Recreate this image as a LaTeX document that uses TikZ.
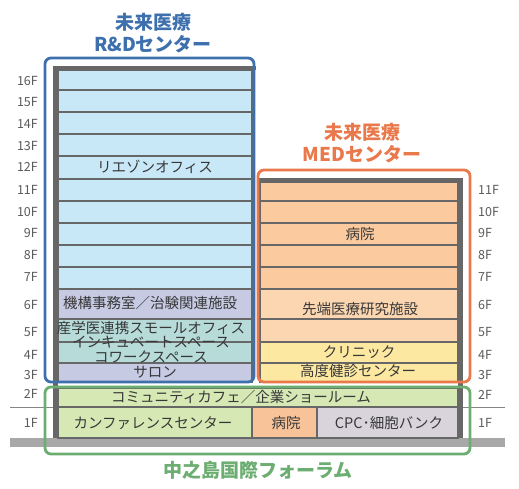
\documentclass[tikz,border=0pt]{standalone}
\usepackage{fontspec}
\setmainfont{Noto Sans CJK JP}
\usepackage{xcolor}
\usepackage{tikz}
\usetikzlibrary{calc, positioning}

\definecolor{rdblue}{HTML}{3F70AE}
\definecolor{medorange}{HTML}{E9784A}
\definecolor{forumgreen}{HTML}{6CAD71}
\definecolor{wallgray}{HTML}{676767}
\definecolor{groundgray}{HTML}{A8A8A8}
\definecolor{txtgray}{HTML}{383838}
\definecolor{flrgray}{HTML}{5A5A5A}
\definecolor{roomblue}{HTML}{C8E8F8}
\definecolor{roomlav}{HTML}{C6CAE3}
\definecolor{roomteal}{HTML}{B6DBD9}
\definecolor{roomorange}{HTML}{FBCA9E}
\definecolor{roompeach}{HTML}{FCD6B1}
\definecolor{roomyellow}{HTML}{FDE8A2}
\definecolor{roomgreen}{HTML}{D6E8B4}
\definecolor{roomhosp}{HTML}{F9C39A}
\definecolor{roomcpc}{HTML}{D9D3DB}

\begin{document}
\begin{tikzpicture}[x=1pt, y=-1pt,
    room/.style={draw=wallgray, line width=1.6pt},
    roomtext/.style={font=\fontsize{14.5}{14.6}\selectfont, text=txtgray, inner sep=0pt, align=center},
    floortext/.style={font=\fontsize{12.5}{12.5}\selectfont, text=flrgray, inner sep=0pt},
    titletext/.style={font=\fontsize{19}{21.5}\selectfont\bfseries, inner sep=0pt, align=center},
    frame/.style={line width=2.8pt, rounded corners=6pt}]
    \useasboundingbox (0,0) rectangle (519,488);

    % Mặt đất và đường ranh giới 1F/2F
    \draw[wallgray!80, line width=0.9pt] (10,407) -- (505,407);
    \fill[groundgray] (10,438) rectangle (505,447);

    % Tòa R&D: các tầng
    \foreach \t/\b in {70/90, 90/112, 112/134, 134/156, 156/179, 179/201, 201/223, 223/245, 245/267, 267/289} {
        \draw[room, fill=roomblue] (58,\t) rectangle (252,\b);
    }
    \draw[room, fill=roomlav] (58,289) rectangle (252,319);
    \draw[room, fill=roomteal] (58,319) rectangle (252,363);
    \draw[wallgray, line width=1.6pt] (58,342) -- (252,342);
    \draw[room, fill=roomlav] (58,363) rectangle (252,382);

    % Tòa MED: các tầng
    \foreach \t/\b in {182/201, 201/223, 223/245, 245/267, 267/289} {
        \draw[room, fill=roomorange] (260,\t) rectangle (458,\b);
    }
    \draw[room, fill=roompeach] (260,289) rectangle (458,319);
    \draw[room, fill=roompeach] (260,319) rectangle (458,342);
    \draw[room, fill=roomyellow] (260,342) rectangle (458,363);
    \draw[room, fill=roomyellow] (260,363) rectangle (458,382);

    % Tầng 1, 2
    \draw[room, fill=roomgreen] (58,388) rectangle (458,407);
    \draw[room, fill=roomgreen] (58,407) rectangle (252,438);
    \draw[room, fill=roomhosp] (252,407) rectangle (317,438);
    \draw[room, fill=roomcpc] (317,407) rectangle (458,438);

    % Tường
    \fill[wallgray] (53,66) rectangle (256,70);
    \fill[wallgray] (53,66) rectangle (58,438);
    \fill[wallgray] (258,178) rectangle (463,182);
    \fill[wallgray] (458,178) rectangle (463,438);

    % Khung viền
    \draw[frame, rdblue] (45,58) rectangle (254,382);
    \draw[frame, medorange] (258,170) rectangle (470,382);
    \draw[frame, forumgreen] (45,387) rectangle (470,454);

    % Tiêu đề
    \node[titletext, text=rdblue] (rdtitle) at (153,33) {未来医療\\R\&Dセンター};
    \node[titletext, text=medorange] (medtitle) at (362,143) {未来医療\\MEDセンター};
    \node[titletext, text=forumgreen] (forumtitle) at (258,470) {中之島国際フォーラム};

    % Tên phòng
    \node[roomtext] (liaison) at (155,167) {リエゾンオフィス};
    \node[roomtext] (kikou) at (150,303) {機構事務室／治験関連施設};
    \node[roomtext] (incub) at (151,342) {産学医連携スモールオフィス\\インキュベートスペース\\コワークスペース};
    \node[roomtext] (salon) at (155,372) {サロン};
    \node[roomtext] (hosp) at (360,234) {病院};
    \node[roomtext] (sentan) at (360,309) {先端医療研究施設};
    \node[roomtext] (clinic) at (359,352) {クリニック};
    \node[roomtext] (kenshin) at (358,371) {高度健診センター};
    \node[roomtext] (cafe) at (241,397) {コミュニティカフェ／企業ショールーム};
    \node[roomtext] (conf) at (153,423) {カンファレンスセンター};
    \node[roomtext] (hosp1) at (286,423) {病院};
    \node[roomtext] (cpc) at (389,423) {CPC･細胞バンク};

    % Số tầng
    \foreach \f/\y in {16/81, 15/102, 14/124, 13/146, 12/167, 11/190, 10/212, 9/233, 8/255, 7/277, 6/305, 5/332, 4/355, 3/375, 2/394, 1/423} {
        \node[floortext, anchor=east] (lf\f) at (38,\y) {\f F};
    }
    \foreach \f/\y in {11/190, 10/212, 9/233, 8/255, 7/277, 6/305, 5/332, 4/355, 3/375, 2/395, 1/423} {
        \node[floortext, anchor=west] (rf\f) at (478,\y) {\f F};
    }
\end{tikzpicture}
\end{document}
